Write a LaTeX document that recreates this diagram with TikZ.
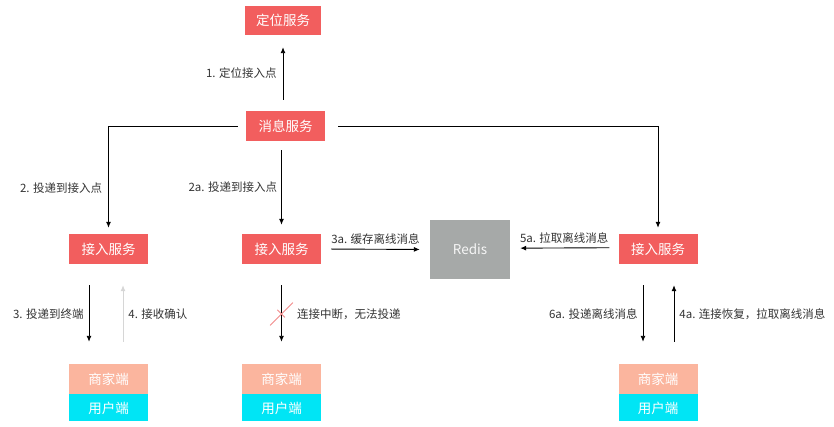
\documentclass[tikz,border=0pt]{standalone}
\usepackage{fontspec}
\setmainfont{Noto Sans CJK SC}
\usepackage{tikz}
\usetikzlibrary{arrows.meta,positioning,shapes.misc}
\definecolor{msred}{HTML}{F25E5E}
\definecolor{mssalmon}{HTML}{FBB59E}
\definecolor{mscyan}{HTML}{00E5F5}
\definecolor{msgray}{HTML}{A6A9A8}
\definecolor{msink}{HTML}{333333}
\definecolor{mspale}{HTML}{D6D6D6}
\definecolor{mscross}{HTML}{F28A8A}
\tikzset{
  msbox/.style={fill=msred, text=white, inner sep=0pt, minimum width=79pt,
    minimum height=30pt, font=\fontsize{13.5}{16}\selectfont},
  msshop/.style={msbox, fill=mssalmon},
  msuser/.style={msbox, fill=mscyan, minimum height=27pt},
  msstore/.style={msbox, fill=msgray, text=white!90!msgray, minimum width=80pt, minimum height=59pt},
  mslabel/.style={text=msink, inner sep=1pt, font=\fontsize{11.5}{14}\selectfont},
  msarrow/.style={-{Latex[length=6pt,width=5pt]}, line width=0.9pt, draw=black},
  msfaint/.style={msarrow, draw=mspale},
  mscut/.style={cross out, draw=mscross, line width=0.8pt, minimum size=22pt, inner sep=0pt}
}

\begin{document}
\begin{tikzpicture}[x=1pt, y=-1pt]
\useasboundingbox (0,0) rectangle (834,427);
\node[msbox, minimum width=76pt, minimum height=29pt] (locate) at (283,20.5) {定位服务};
\node[msbox] (msg) at (285.5,126) {消息服务};
\node[msbox] (accL) at (108.5,249) {接入服务};
\node[msbox] (accM) at (281.5,249) {接入服务};
\node[msstore] (redis) at (470,249.5) {Redis};
\node[msbox] (accR) at (658,249) {接入服务};
\node[msshop] (shopL) at (108.5,379) {商家端};
\node[msuser, below=0pt of shopL] (userL) {用户端};
\node[msshop] (shopM) at (281.5,379) {商家端};
\node[msuser, below=0pt of shopM] (userM) {用户端};
\node[msshop] (shopR) at (658,379) {商家端};
\node[msuser, below=0pt of shopR] (userR) {用户端};
% message service out
\draw[msarrow, shorten <=11pt, shorten >=12pt] (msg.north -| locate.south) -- (locate.south)
  node[mslabel, midway, left=5pt] (l1) {1. 定位接入点};
\draw[msarrow, shorten <=8pt, shorten >=6pt] (msg.west) -| (accL.north)
  node[mslabel, pos=0.79, left=5pt] (l2) {2. 投递到接入点};
\draw[msarrow, shorten <=9pt, shorten >=9pt] (msg.south -| accM.north) -- (accM.north)
  node[mslabel, midway, left=3pt] (l2a) {2a. 投递到接入点};
\draw[msarrow, shorten <=13pt, shorten >=6pt] (msg.east) -| (accR.north);
% redis
\draw[msarrow, shorten <=10pt, shorten >=10pt] (accM.east) -- (redis.west)
  node[mslabel, midway, above=3pt] (l3a) {3a. 缓存离线消息};
\draw[msarrow, shorten <=9pt, shorten >=10pt] ([yshift=1.3pt]accR.west) -- ([yshift=1.3pt]redis.east)
  node[mslabel, midway, above=3pt] (l5a) {5a. 拉取离线消息};
% clients
\draw[msarrow, shorten <=21pt, shorten >=22pt] ([xshift=-19.5pt]accL.south) -- ([xshift=-19.5pt]shopL.north)
  node[mslabel, midway, left=4pt] (l3) {3. 投递到终端};
\draw[msfaint, shorten <=22pt, shorten >=21pt] ([xshift=14.5pt]shopL.north) -- ([xshift=14.5pt]accL.south)
  node[mslabel, midway, right=4pt] (l4) {4. 接收确认};
\draw[msarrow, shorten <=21pt, shorten >=22pt] (accM.south) -- (shopM.north)
  node[mscut, midway] (cut) {};
\node[mslabel, right=3pt of cut] (lcut) {连接中断，无法投递};
\draw[msarrow, shorten <=21pt, shorten >=22pt] ([xshift=-15pt]accR.south) -- ([xshift=-15pt]shopR.north)
  node[mslabel, midway, left=4pt] (l6a) {6a. 投递离线消息};
\draw[msarrow, shorten <=22pt, shorten >=21pt] ([xshift=16pt]shopR.north) -- ([xshift=16pt]accR.south)
  node[mslabel, midway, right=4pt] (l4a) {4a. 连接恢复，拉取离线消息};
\end{tikzpicture}
\end{document}
